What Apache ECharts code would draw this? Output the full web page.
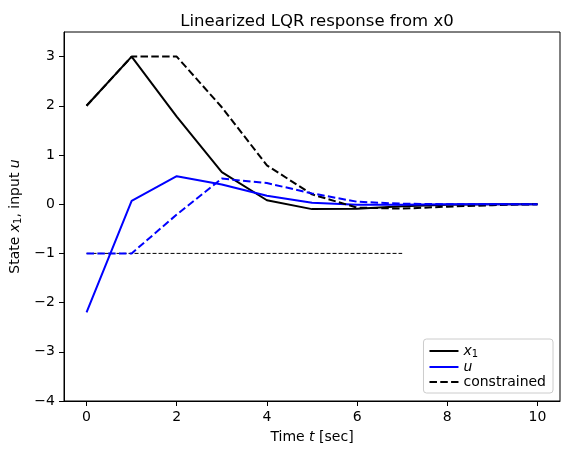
<!DOCTYPE html>
<html lang="en">
<head>
    <meta charset="utf-8" />
    <title>Linearized LQR response</title>
    <script type="text/javascript" src="https://cdn.jsdelivr.net/npm/echarts@6/dist/echarts.min.js"></script>
    <style>
        html, body { margin: 0; padding: 0; background: #fff; }
        #chart { width: 569px; height: 457px; }
    </style>
</head>
<body>
    <div id="chart"></div>
    <script type="text/javascript">
        // time steps and responses
        var timeSteps = [0, 1, 2, 3, 4, 5, 6, 7, 8, 9, 10];
        var stateX1 = [2, 3, 1.78, 0.65, 0.08, -0.1, -0.09, -0.04, -0.01, 0, 0];
        var inputU = [-2.2, 0.07, 0.57, 0.4, 0.17, 0.03, -0.01, -0.01, 0, 0, 0];
        var constrainedX1 = [2, 3, 3, 1.97, 0.79, 0.2, -0.07, -0.09, -0.05, -0.02, 0];
        var constrainedU = [-1, -1, -0.21, 0.52, 0.43, 0.22, 0.05, 0.01, 0, 0, 0];
        var limitTimes = [0, 7];
        var limitValues = [-1, -1];
        var xTicks = [0, 2, 4, 6, 8, 10];
        var yTicks = [-4, -3, -2, -1, 0, 1, 2, 3];

        var FONT = 'DejaVu Sans';

        function pairs(xs, ys) {
            var out = [];
            for (var i = 0; i < xs.length; i++) {
                out.push([xs[i], ys[i]]);
            }
            return out;
        }

        function minusFmt(v) {
            return v < 0 ? '\u2212' + (-v) : String(v);
        }

        var mathRich = {
            i: { fontStyle: 'italic', fontFamily: FONT, fontSize: 14, color: '#000' },
            s: { fontFamily: FONT, fontSize: 10, color: '#000', verticalAlign: 'bottom', padding: [6, 0, 0, 0] }
        };

        var chart = echarts.init(document.getElementById('chart'), null, { renderer: 'canvas' });

        var option = {
            animation: false,
            backgroundColor: '#fff',
            title: {
                text: 'Linearized LQR response from x0',
                left: 312,
                top: 8,
                textAlign: 'center',
                textStyle: { fontFamily: FONT, fontSize: 16.5, fontWeight: 'normal', color: '#000' }
            },
            legend: {
                data: ['x1', 'u', 'constrained'],
                orient: 'vertical',
                right: 16,
                bottom: 64,
                itemWidth: 29,
                itemHeight: 12,
                itemGap: 1,
                padding: [5, 7, 4, 5],
                borderColor: '#cccccc',
                borderWidth: 1,
                borderRadius: 3,
                backgroundColor: 'rgba(255,255,255,0.8)',
                itemStyle: { opacity: 0 },
                formatter: function (name) {
                    if (name === 'x1') return '{i|x}{s|1}';
                    if (name === 'u') return '{i|u}';
                    return name;
                },
                textStyle: { fontFamily: FONT, fontSize: 14, color: '#000', rich: mathRich }
            },
            grid: {
                left: 64,
                right: 9,
                top: 32,
                bottom: 56,
                show: true,
                borderColor: '#000',
                borderWidth: 1,
                containLabel: false
            },
            xAxis: {
                type: 'value',
                min: -0.5,
                max: 10.5,
                name: '{n|Time }{i|t}{n| [sec]}',
                nameLocation: 'middle',
                nameGap: 29,
                nameTextStyle: {
                    rich: {
                        n: { fontFamily: FONT, fontSize: 14, color: '#000' },
                        i: { fontFamily: FONT, fontSize: 14, color: '#000', fontStyle: 'italic' }
                    }
                },
                splitLine: { show: false },
                axisLine: { show: true, onZero: false, lineStyle: { color: '#000', width: 1 } },
                axisTick: { show: true, customValues: xTicks, length: 5, lineStyle: { color: '#000' } },
                axisLabel: {
                    customValues: xTicks,
                    formatter: minusFmt,
                    fontFamily: FONT, fontSize: 14, color: '#000', margin: 9
                }
            },
            yAxis: {
                type: 'value',
                min: -4,
                max: 3.5,
                name: '{n|State }{i|x}{s|1}{n|, input }{i|u}',
                nameLocation: 'middle',
                nameGap: 41,
                nameTextStyle: {
                    rich: {
                        n: { fontFamily: FONT, fontSize: 14, color: '#000' },
                        i: { fontFamily: FONT, fontSize: 14, color: '#000', fontStyle: 'italic' },
                        s: { fontFamily: FONT, fontSize: 10, color: '#000', verticalAlign: 'bottom', padding: [6, 0, 0, 0] }
                    }
                },
                splitLine: { show: false },
                axisLine: { show: true, onZero: false, lineStyle: { color: '#000', width: 1 } },
                axisTick: { show: true, customValues: yTicks, length: 5, lineStyle: { color: '#000' } },
                axisLabel: {
                    customValues: yTicks,
                    formatter: minusFmt,
                    fontFamily: FONT, fontSize: 14, color: '#000', margin: 9
                }
            },
            series: [{
                name: 'limit',
                type: 'line',
                data: pairs(limitTimes, limitValues),
                symbol: 'none',
                silent: true,
                lineStyle: { color: '#000', width: 1, type: [4, 2] },
                z: 1
            }, {
                name: 'x1',
                type: 'line',
                data: pairs(timeSteps, stateX1),
                symbol: 'none',
                itemStyle: { color: '#000' },
                lineStyle: { color: '#000', width: 2 },
                z: 3
            }, {
                name: 'u',
                type: 'line',
                data: pairs(timeSteps, inputU),
                symbol: 'none',
                itemStyle: { color: '#0000ff' },
                lineStyle: { color: '#0000ff', width: 2 },
                z: 3
            }, {
                name: 'constrained',
                type: 'line',
                data: pairs(timeSteps, constrainedX1),
                symbol: 'none',
                itemStyle: { color: '#000' },
                lineStyle: { color: '#000', width: 2, type: [7.5, 3.3] },
                z: 4
            }, {
                name: 'constrained u',
                type: 'line',
                data: pairs(timeSteps, constrainedU),
                symbol: 'none',
                itemStyle: { color: '#0000ff' },
                lineStyle: { color: '#0000ff', width: 2, type: [7.5, 3.3] },
                z: 4
            }]
        };

        chart.setOption(option);
    </script>
</body>
</html>
